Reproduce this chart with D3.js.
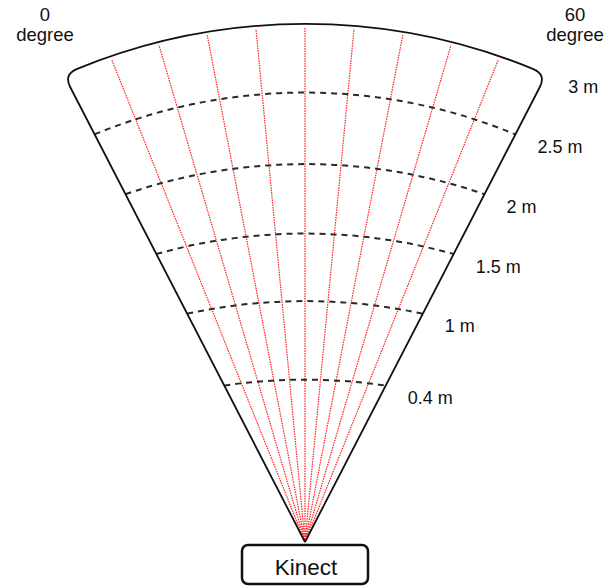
<!DOCTYPE html>
<html>
<head>
<meta charset="utf-8">
<script src="https://cdn.jsdelivr.net/npm/d3@7"></script>
<style>
  body { margin: 0; background: #fff; }
  text { font-family: "Liberation Sans", Arial, Helvetica, sans-serif; fill: #111; }
</style>
</head>
<body>
<svg id="fan" width="616" height="588"></svg>
<script>
// distances (m) with a dashed arc, outer boundary is the last one
var distances = [0.4, 1, 1.5, 2, 2.5, 3];
var distanceLabels = ["0.4 m", "1 m", "1.5 m", "2 m", "2.5 m", "3 m"];
// angles (degree) of the red sample rays
var rayDegrees = [6, 12, 18, 24, 30, 36, 42, 48, 54];
// the two sides of the field of view
var sideDegrees = [0, 60];
var sideLabels = ["0", "60"];
var sensorName = "Kinect";

var svg = d3.select("#fan");

// apex of the fan (sensor position)
var cx = 305, cy = 542;

// distance -> radius along the edges
var r = d3.scaleLinear().domain([0.4, 3]).range([176, 526]);
// degree -> angle from vertical
var ang = d3.scaleLinear().domain([0, 60]).range([-27.3, 27.3]);

function rad(deg) { return ang(deg) * Math.PI / 180; }
function pt(m, deg) {
  var a = rad(deg);
  return [cx + r(m) * Math.sin(a), cy - r(m) * Math.cos(a)];
}

// outer arc circle
var outerR = 600;
var pL = pt(3, 0), pR = pt(3, 60);
var ocy = pL[1] + Math.sqrt(outerR * outerR - (cx - pL[0]) * (cx - pL[0]));

// red dotted rays, from apex up to just under the outer arc
rayDegrees.forEach(function(d) {
  var a = rad(d);
  var k = cy - ocy; // negative
  var t = k * Math.cos(a) + Math.sqrt(k * k * Math.cos(a) * Math.cos(a) - (k * k - outerR * outerR));
  t = t - 3;
  svg.append("line")
      .attr("x1", cx).attr("y1", cy)
      .attr("x2", cx + t * Math.sin(a))
      .attr("y2", cy - t * Math.cos(a))
      .style("stroke", "#ff2020")
      .style("stroke-width", 1.2)
      .style("stroke-dasharray", "1.5,1");
});

// dashed distance arcs (same curvature for each)
var arcR = 550;
distances.slice(0, -1).forEach(function(m) {
  var a = pt(m, 0), b = pt(m, 60);
  svg.append("path")
      .attr("d", "M" + a[0] + "," + a[1] + " A" + arcR + "," + arcR + " 0 0 1 " + b[0] + "," + b[1])
      .style("fill", "none")
      .style("stroke", "#2a2a2a")
      .style("stroke-width", 2)
      .style("stroke-dasharray", "6,5");
});

// outer boundary with rounded top corners
var cut = 14;
var eL = [cx + (r(3) - cut) * Math.sin(rad(0)), cy - (r(3) - cut) * Math.cos(rad(0))];
var eR = [cx + (r(3) - cut) * Math.sin(rad(60)), cy - (r(3) - cut) * Math.cos(rad(60))];
var thL = Math.atan2(pL[0] - cx, ocy - pL[1]) + cut / outerR;
var thR = Math.atan2(pR[0] - cx, ocy - pR[1]) - cut / outerR;
var qL = [cx + outerR * Math.sin(thL), ocy - outerR * Math.cos(thL)];
var qR = [cx + outerR * Math.sin(thR), ocy - outerR * Math.cos(thR)];

var p = d3.path();
p.moveTo(cx, cy);
p.lineTo(eL[0], eL[1]);
p.quadraticCurveTo(pL[0], pL[1], qL[0], qL[1]);
var outline = p.toString() +
  "A" + outerR + "," + outerR + " 0 0 1 " + qR[0] + "," + qR[1] +
  "Q" + pR[0] + "," + pR[1] + " " + eR[0] + "," + eR[1] + "L" + cx + "," + cy;

svg.append("path")
    .attr("d", outline)
    .style("fill", "none")
    .style("stroke", "#111")
    .style("stroke-width", 1.8)
    .style("stroke-linejoin", "round");

// distance labels, right of the right edge
distances.forEach(function(m, i) {
  var e = pt(m, 60);
  svg.append("text")
      .attr("x", e[0] + 22)
      .attr("y", e[1] + 18.5)
      .style("font-size", "18px")
      .text(distanceLabels[i]);
});

// degree labels in the top corners
var sideX = [45, 575];
sideDegrees.forEach(function(d, i) {
  var t = svg.append("text")
      .attr("text-anchor", "middle")
      .style("font-size", "18.5px");
  t.append("tspan").attr("x", sideX[i]).attr("y", 21).text(sideLabels[i]);
  t.append("tspan").attr("x", sideX[i]).attr("y", 41).text("degree");
});

// sensor box
svg.append("rect")
    .attr("x", cx - 63).attr("y", cy + 3)
    .attr("width", 126).attr("height", 39)
    .attr("rx", 6)
    .style("fill", "#fff")
    .style("stroke", "#111")
    .style("stroke-width", 2.5);

svg.append("text")
    .attr("x", cx + 1)
    .attr("y", cy + 33)
    .attr("text-anchor", "middle")
    .style("font-size", "22.5px")
    .text(sensorName);
</script>
</body>
</html>
